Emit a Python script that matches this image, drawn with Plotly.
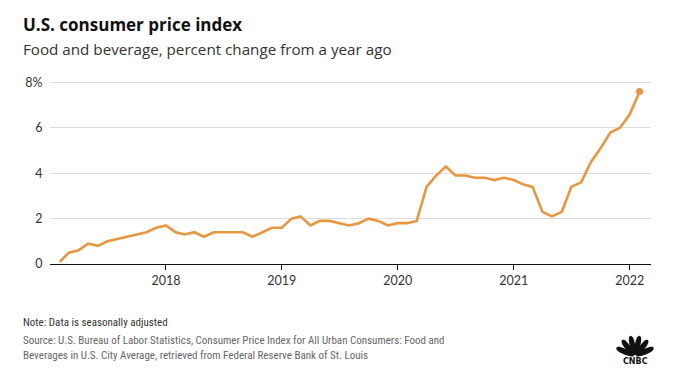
import numpy as np
import pandas as pd
import plotly.graph_objects as go

# ---- data ----
start_month = "2017-02-01"
cpi_food = [
    0.1, 0.5, 0.6, 0.9, 0.8, 1.0, 1.1, 1.2, 1.3, 1.4, 1.6,          # 2017 Feb-Dec
    1.7, 1.4, 1.3, 1.4, 1.2, 1.4, 1.4, 1.4, 1.4, 1.2, 1.4, 1.6,     # 2018
    1.6, 2.0, 2.1, 1.7, 1.9, 1.9, 1.8, 1.7, 1.8, 2.0, 1.9, 1.7,     # 2019
    1.8, 1.8, 1.9, 3.4, 3.9, 4.3, 3.9, 3.9, 3.8, 3.8, 3.7, 3.8,     # 2020
    3.7, 3.5, 3.4, 2.3, 2.1, 2.3, 3.4, 3.6, 4.5, 5.1, 5.8, 6.0,     # 2021
    6.6, 7.6,                                                       # 2022 Jan-Feb
]
months = pd.date_range(start_month, periods=len(cpi_food), freq="MS")
x_tick_vals = ["2018-01-01", "2019-01-01", "2020-01-01", "2021-01-01", "2022-01-01"]
x_tick_text = ["2018", "2019", "2020", "2021", "2022"]
y_tick_vals = [0, 2, 4, 6, 8]
y_tick_text = ["0", "2", "4", "6", "8%"]

ORANGE = "#E9963F"
W, H = 674, 382
L, R, T, B = 50, 651, 77.5, 264


def px(x, y):
    return (x - L) / (R - L), (B - y) / (B - T)


fig = go.Figure()
fig.add_trace(go.Scatter(
    x=months, y=cpi_food, mode="lines",
    line=dict(color=ORANGE, width=2.6), hoverinfo="skip", showlegend=False,
))
fig.add_trace(go.Scatter(
    x=[months[-1]], y=[cpi_food[-1]], mode="markers",
    marker=dict(color=ORANGE, size=7), hoverinfo="skip", showlegend=False,
))

fig.update_layout(
    width=W, height=H,
    margin=dict(l=L, r=W - R, t=T, b=H - B),
    paper_bgcolor="white", plot_bgcolor="white",
    font=dict(family="Lato, Open Sans, sans-serif", color="#333333", size=12),
    xaxis=dict(
        type="date", range=["2017-01-01", "2022-03-09"],
        tickvals=x_tick_vals, ticktext=x_tick_text,
        showgrid=False, showline=True, linecolor="#111111", linewidth=1.2,
        ticks="outside", ticklen=5, tickcolor="#111111", tickwidth=1,
        tickfont=dict(size=12.5, color="#333333"), fixedrange=True,
    ),
    yaxis=dict(
        range=[0, 8.2], tickvals=y_tick_vals, ticktext=y_tick_text,
        showgrid=True, gridcolor="#dddddd", gridwidth=1, zeroline=False,
        showline=False, ticks="outside", ticklen=4, tickcolor="rgba(0,0,0,0)",
        tickfont=dict(size=12.5, color="#333333"), fixedrange=True,
    ),
)

def note(text, x, y, size, color, family="Lato, Open Sans, sans-serif", bold=False):
    xx, yy = px(x, y)
    fig.add_annotation(
        text=f"<b>{text}</b>" if bold else text, x=xx, y=yy, xref="paper", yref="paper",
        xanchor="left", yanchor="middle", showarrow=False, borderpad=0,
        font=dict(size=size, color=color, family=family),
    )

note("U.S. consumer price index", 22, 24, 17, "#111111", family="Open Sans, sans-serif", bold=True)
note("Food and beverage, percent change from a year ago", 22, 48, 15.2, "#333333", family="Open Sans, sans-serif")
narrow = "Liberation Sans Narrow, Arial Narrow, Roboto Condensed, sans-serif"
note("Note: Data is seasonally adjusted", 22, 323, 11, "#333333", family=narrow)
note("Source: U.S. Bureau of Labor Statistics, Consumer Price Index for All Urban Consumers: Food and",
     22, 341, 11, "#666666", family=narrow)
note("Beverages in U.S. City Average, retrieved from Federal Reserve Bank of St. Louis",
     22, 356, 11, "#666666", family=narrow)

# CNBC peacock logo (decoration)
cx, cy = 635, 357
shapes = []
for ang in np.linspace(155, 25, 6):
    a = np.deg2rad(ang)
    t = np.linspace(0, 2 * np.pi, 30)
    r_long, r_short = 9.5, 3.4
    lx = 11 + r_long * np.cos(t)
    ly = r_short * np.sin(t) * (0.55 + 0.45 * (1 + np.cos(t)) / 2)
    X = cx + lx * np.cos(a) - ly * np.sin(a)
    Y = cy - (lx * np.sin(a) + ly * np.cos(a)) * 1.05
    pts = [px(xv, yv) for xv, yv in zip(X, Y)]
    path = "M " + " L ".join(f"{p[0]:.5f},{p[1]:.5f}" for p in pts) + " Z"
    shapes.append(dict(type="path", path=path, xref="paper", yref="paper",
                       fillcolor="#111111", line=dict(width=0)))
fig.update_layout(shapes=shapes)
xx, yy = px(635, 362)
fig.add_annotation(text="<b>CNBC</b>", x=xx, y=yy, xref="paper", yref="paper",
                   xanchor="center", yanchor="middle", showarrow=False, borderpad=0,
                   font=dict(size=8, color="#111111", family="DejaVu Sans, sans-serif"))

fig.write_html("out.html", config={"displayModeBar": False},
               post_script="document.body.style.margin='0';")
